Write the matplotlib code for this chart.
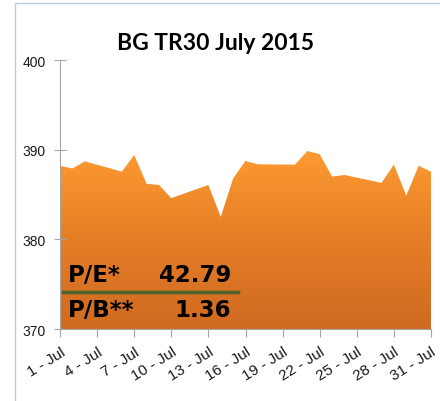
import matplotlib.pyplot as plt
import matplotlib
from matplotlib.patches import Rectangle
from matplotlib.colors import LinearSegmentedColormap
import numpy as np

# index values for trading days of July 2015
days = [1, 2, 3, 6, 7, 8, 9, 10, 13, 14, 15, 16, 17, 20, 21, 22, 23, 24, 27, 28, 29, 30, 31]
values = [388.2, 387.9, 388.7, 387.55, 389.4, 386.2, 386.06, 384.6, 386.06, 382.5, 386.8, 388.74,
          388.37, 388.33, 389.85, 389.5, 387.0, 387.18, 386.3, 388.33, 384.87, 388.2, 387.55]
tick_days = [1, 4, 7, 10, 13, 16, 19, 22, 25, 28, 31]
tick_labels = [str(d) + ' - Jul' for d in tick_days]
pe = '42.79'
pb = '1.36'

fig = plt.figure(figsize=(4.4, 4.02), dpi=100)
ax1 = fig.add_axes([60/440, 1 - 330/402, 371/440, 269/402])

# outer chart frame
fig.patches.append(Rectangle((15/440, -0.1), 1.2, 1 - 4/402 + 0.1, transform=fig.transFigure,
                             fill=False, ec='#b9cde5', lw=1))

# gradient filled area
poly = ax1.fill_between(days, values, 370, color='none', lw=0)
cmap = LinearSegmentedColormap.from_list('org', ['#cf6a21', '#e47e27', '#fd9a31'])
grad = np.linspace(0, 1, 256).reshape(-1, 1)
img = ax1.imshow(grad, cmap=cmap, origin='lower', aspect='auto',
                 extent=[days[0], days[-1], 370, max(values)], zorder=1)
img.set_clip_path(poly.get_paths()[0], transform=ax1.transData)

ax1.set_xlim(1, 31)
ax1.set_ylim(370, 400)
ax1.set_yticks([370, 380, 390, 400])
ax1.set_xticks(tick_days)
ax1.set_xticklabels(tick_labels, rotation=32, ha='right', rotation_mode='anchor', fontsize=11,
                    family='Liberation Sans', color='#1a1a1a')
for lab in ax1.get_yticklabels():
    lab.set_fontsize(10)
    lab.set_family('Liberation Sans')
    lab.set_color('#1a1a1a')
for s in ['top', 'right']:
    ax1.spines[s].set_visible(False)
for s in ['left', 'bottom']:
    ax1.spines[s].set_color('#a6a6a6')
ax1.tick_params(axis='y', direction='inout', length=9, color='#a6a6a6', pad=6)
ax1.tick_params(axis='x', direction='out', length=6, color='#a6a6a6', pad=5)

# title
fig.text(215/440, 1 - 43/402, 'BG TR30 July 2015', ha='center', va='center', fontsize=16.5,
         fontweight='bold', family='Lato')

# P/E and P/B box
tf = dict(fontsize=16.5, fontweight='bold', family='DejaVu Sans', color='black', va='center')
fig.text(68/440, 1 - 276/402, 'P/E*', ha='left', **tf)
fig.text(231/440, 1 - 276/402, pe, ha='right', **tf)
fig.text(68/440, 1 - 311/402, 'P/B**', ha='left', **tf)
fig.text(231/440, 1 - 311/402, pb, ha='right', **tf)
fig.lines.append(matplotlib.lines.Line2D([63/440, 238/440], [1 - 293/402, 1 - 293/402],
                                         transform=fig.transFigure, color='#4f6228', lw=2.5))

fig.savefig('out.png', dpi=100)
